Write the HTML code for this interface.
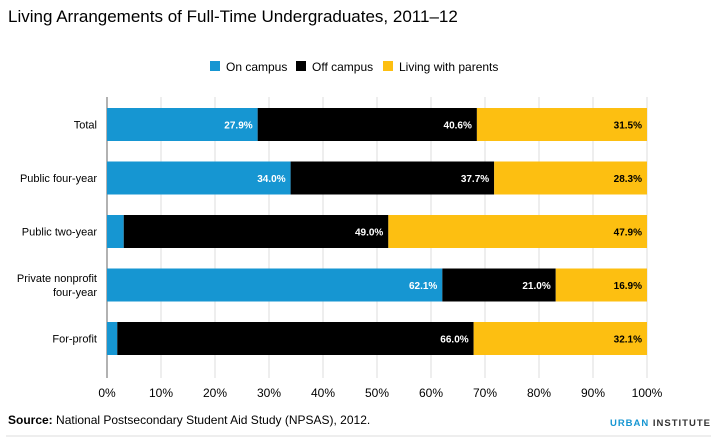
<!DOCTYPE html>
<html><head><meta charset="utf-8"><style>
body{margin:0;background:#fff;font-family:"Liberation Sans",sans-serif;}
svg{display:block}
</style></head><body>
<svg id="c" width="717" height="447">
<text x="8" y="22" font-size="17" fill="#000">Living Arrangements of Full-Time Undergraduates, 2011–12</text>
<g>
<rect x="210" y="61" width="10" height="10" fill="#1696d2"/>
<text x="226" y="71" font-size="12">On campus</text>
<rect x="296" y="61" width="10" height="10" fill="#000"/>
<text x="312" y="71" font-size="12">Off campus</text>
<rect x="383" y="61" width="10" height="10" fill="#fdbf11"/>
<text x="399" y="71" font-size="12">Living with parents</text>
</g>
<g id="grid"></g><g id="bars"></g>
<text x="8" y="424" font-size="12"><tspan font-weight="bold">Source:</tspan> National Postsecondary Student Aid Study (NPSAS), 2012.</text>
<text x="711" y="426" font-size="9.5" font-weight="bold" text-anchor="end" letter-spacing="1"><tspan fill="#1696d2">URBAN</tspan> <tspan fill="#333">INSTITUTE</tspan></text>
<line x1="6" y1="436" x2="711" y2="436" stroke="#ddd"/>
</svg>
<script>
const categories=["Total","Public four-year","Public two-year","Private nonprofit|four-year","For-profit"];
const onCampus=[27.9,34.0,3.1,62.1,1.9];
const offCampus=[40.6,37.7,49.0,21.0,66.0];
const withParents=[31.5,28.3,47.9,16.9,32.1];
const ticks=[0,10,20,30,40,50,60,70,80,90,100];
const NS="http://www.w3.org/2000/svg";
const x0=107,x1=647,top0=108,step=53.5,bh=33;
const X=v=>x0+(x1-x0)*v/100;
const Y=i=>top0+i*step;
const g=document.getElementById('grid'),b=document.getElementById('bars');
function mk(tag,attrs,parent,txt){const e=document.createElementNS(NS,tag);for(const k in attrs)e.setAttribute(k,attrs[k]);if(txt!=null)e.textContent=txt;parent.appendChild(e);return e;}
ticks.forEach(t=>{
 const l=mk('line',{x1:X(t),x2:X(t),y1:97,y2:378,stroke:t===0?'#666':'#ddd'},g);
 
 
 const tx=mk('text',{x:X(t),y:397,'font-size':12,'text-anchor':'middle'},g,t+'%');
 
 
});
const series=[[onCampus,'#1696d2','#fff','on-campus'],[offCampus,'#000','#fff','off-campus'],[withParents,'#fdbf11','#000','living-with-parents']];
categories.forEach((c,i)=>{
 const y=Y(i);
 const parts=c.split('|');
 const lab=mk('text',{x:97,'font-size':11,'text-anchor':'end'},b);
 
 
 parts.forEach((p,j)=>{mk('tspan',{x:97,y:y+bh/2+4+(j-(parts.length-1)/2)*14},lab,p);});
 let acc=0;
 series.forEach(([arr,col,tc,nm])=>{
  const v=arr[i];
  const r=mk('rect',{x:X(acc),y:y,width:X(acc+v)-X(acc),height:bh,fill:col},b);
  
  
  acc+=v;
  if(v>10){
   const t=mk('text',{x:X(acc)-5,y:y+bh/2+4,'font-size':10,'font-weight':'bold','text-anchor':'end',fill:tc},b,v.toFixed(1)+'%');
   
   
  }
 });
});
</script>
</body></html>
